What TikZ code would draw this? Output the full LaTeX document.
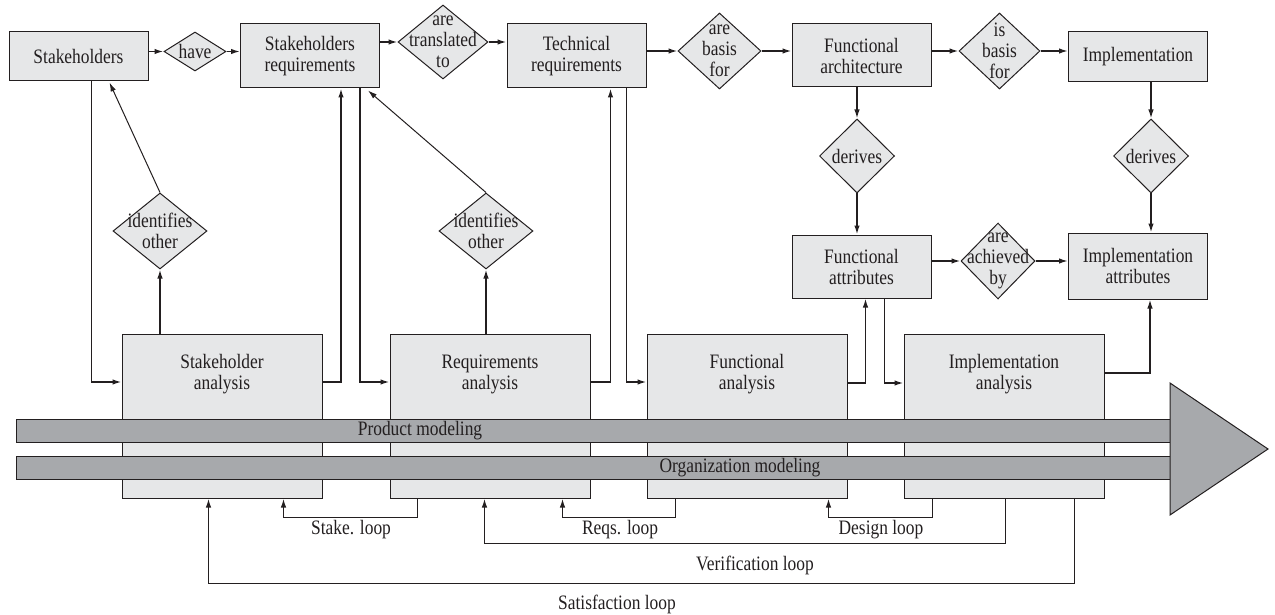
\documentclass[tikz,border=0pt]{standalone}
\usepackage{fontspec}
\setmainfont{Liberation Serif}[FakeStretch=0.85]
\usetikzlibrary{shapes.geometric,arrows.meta}
\definecolor{boxgray}{RGB}{230,231,232}
\definecolor{bargray}{RGB}{167,169,172}
\definecolor{ink}{RGB}{35,31,32}

\begin{document}
\begin{tikzpicture}[x=1pt,y=-1pt,
  every node/.style={font=\fontsize{20.5}{21}\selectfont, text=ink},
  box/.style={draw=ink, fill=boxgray, line width=1pt, minimum width=139pt, inner sep=0pt, align=center},
  dia/.style={diamond, draw=ink, fill=boxgray, line width=1pt, inner sep=0pt},
  lbl/.style={align=center, inner sep=0pt},
  stage/.style={draw=ink, fill=boxgray, line width=1pt, minimum width=200pt, minimum height=164pt, inner sep=0pt},
  band/.style={draw=ink, fill=bargray, line width=1pt},
  conn/.style={draw=ink, line width=1.5pt, -{Latex[length=9pt,width=5.5pt]}},
  slant/.style={draw=ink, line width=1pt, -{Latex[length=9pt,width=5.5pt]}},
]
\useasboundingbox (0,0) rectangle (1275,615);

% ---- top row: entities and relations
\node[box, minimum height=49pt] (sh) at (78.5,56.5) {Stakeholders};
\node[dia, minimum width=62pt, minimum height=39pt] (have) at (195,51.5) {};
\node[lbl] (havet) at (have) {have};
\node[box, minimum height=64pt] (sr) at (310,56) {Stakeholders\\requirements};
\node[dia, minimum width=90pt, minimum height=74pt] (trans) at (443,42) {};
\node[lbl] (transt) at (trans) {are\\translated\\to};
\node[box, minimum height=64pt] (tech) at (576.5,56) {Technical\\requirements};
\node[dia, minimum width=83pt, minimum height=76pt] (basisa) at (719.5,51) {};
\node[lbl] (basisat) at (basisa) {are\\basis\\for};
\node[box, minimum height=63pt] (fa) at (861.5,55.5) {Functional\\architecture};
\node[dia, minimum width=81pt, minimum height=76pt] (basisb) at (999.5,51) {};
\node[lbl] (basisbt) at (basisb) {is\\basis\\for};
\node[box, minimum height=50pt] (impl) at (1138,57) {Implementation};

% ---- derivation column
\node[dia, minimum width=75pt, minimum height=74pt] (dera) at (857,156) {};
\node[lbl] (derat) at (dera) {derives};
\node[dia, minimum width=75pt, minimum height=74pt] (derb) at (1151,156) {};
\node[lbl] (derbt) at (derb) {derives};
\node[box, minimum height=63pt] (fattr) at (861.5,266.5) {Functional\\attributes};
\node[dia, minimum width=74pt, minimum height=76pt] (ach) at (998,261) {};
\node[lbl] (acht) at (ach) {are\\achieved\\by};
\node[box, minimum height=66pt] (iattr) at (1138,266) {Implementation\\attributes};

% ---- identification relations
\node[dia, minimum width=94pt, minimum height=76pt] (ida) at (160,231) {};
\node[lbl] (idat) at (ida) {identifies\\other};
\node[dia, minimum width=94pt, minimum height=76pt] (idb) at (486,231) {};
\node[lbl] (idbt) at (idb) {identifies\\other};

% ---- analysis stages
\node[stage] (sa) at (222,416) {};
\node[stage] (ra) at (490,416) {};
\node[stage] (fna) at (747,416) {};
\node[stage] (ia) at (1004,416) {};
\node[lbl] (sat) at (222,374) {Stakeholder\\analysis};
\node[lbl] (rat) at (490,374) {Requirements\\analysis};
\node[lbl] (fnat) at (747,374) {Functional\\analysis};
\node[lbl] (iat) at (1004,374) {Implementation\\analysis};

% ---- modeling bands and the process arrow
\draw[band] (16,419) rectangle (1170,442);
\draw[band] (16,456) rectangle (1170,479);
\draw[band, line join=miter] (1170,383) -- (1268,449) -- (1170,515) -- cycle;
\node[lbl] (prod) at (420,431) {Product modeling};
\node[lbl] (org) at (740,468) {Organization modeling};

% ---- top row connectors
\draw[conn] (sh.east |- have.west) -- (have.west);
\draw[conn] (have.east) -- (have.east -| sr.west);
\draw[conn] (sr.east |- trans.west) -- (trans.west);
\draw[conn] (trans.east) -- (trans.east -| tech.west);
\draw[conn] (tech.east |- basisa.west) -- (basisa.west);
\draw[conn] (basisa.east) -- (basisa.east -| fa.west);
\draw[conn] (fa.east |- basisb.west) -- (basisb.west);
\draw[conn] (basisb.east) -- (basisb.east -| impl.west);
\draw[conn] (dera.north |- fa.south) -- (dera.north);
\draw[conn] (dera.south) -- (dera.south |- fattr.north);
\draw[conn] (derb.north |- impl.south) -- (derb.north);
\draw[conn] (derb.south) -- (derb.south |- iattr.north);
\draw[conn] (fattr.east |- ach.west) -- (ach.west);
\draw[conn] (ach.east) -- (ach.east -| iattr.west);

% ---- stage connectors
\draw[conn] ([xshift=83pt]sh.south west) |- ([yshift=34pt]sa.west);
\draw[conn] (ida.south |- sa.north) -- (ida.south);
\draw[slant] (ida.north) -- ([xshift=101pt,yshift=-1pt]sh.south west);
\draw[conn] ([yshift=34pt]sa.east) -| ([xshift=101pt]sr.south west);
\draw[conn] ([xshift=120pt]sr.south west) |- ([yshift=34pt]ra.west);
\draw[conn] (idb.south |- ra.north) -- (idb.south);
\draw[slant] (idb.north) -- ([xshift=128pt,yshift=-2pt]sr.south west);
\draw[conn] ([yshift=34pt]ra.east) -| ([xshift=104pt]tech.south west);
\draw[conn] ([xshift=120pt]tech.south west) |- ([yshift=34pt]fna.west);
\draw[conn] ([yshift=33pt]fna.east) -| ([xshift=74pt]fattr.south west);
\draw[conn] ([xshift=93pt]fattr.south west) |- ([yshift=33pt]ia.west);
\draw[conn] ([yshift=43pt]ia.east) -| ([xshift=82pt]iattr.south west);

% ---- feedback loops
\draw[conn] ([xshift=28pt]ra.south west) -- ++(0,19) -| ([xshift=162pt]sa.south west);
\draw[conn] ([xshift=29pt]fna.south west) -- ++(0,19) -| ([xshift=173pt]ra.south west);
\draw[conn] ([xshift=29pt]ia.south west) -- ++(0,19) -| ([xshift=182pt]fna.south west);
\draw[conn] ([xshift=102pt]ia.south west) -- ++(0,45) -| ([xshift=95pt]ra.south west);
\draw[conn] ([xshift=171pt]ia.south west) -- ++(0,85) -| ([xshift=87pt]sa.south west);
\node[lbl] (stakel) at (351,530) {Stake. loop};
\node[lbl] (reqsl) at (620,530) {Reqs. loop};
\node[lbl] (desl) at (881,530) {Design loop};
\node[lbl] (verl) at (755,565) {Verification loop};
\node[lbl] (satl) at (617,604) {Satisfaction loop};
\end{tikzpicture}
\end{document}
